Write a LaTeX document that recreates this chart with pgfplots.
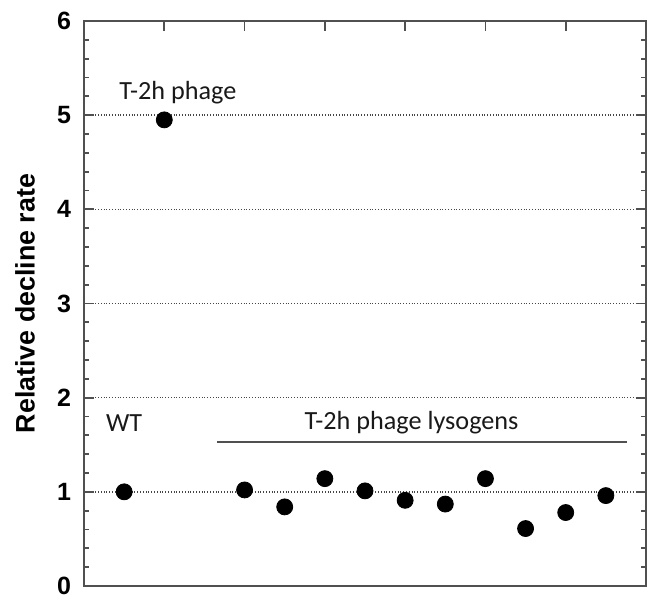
\documentclass[border=0pt]{standalone}
\usepackage{pgfplots}
\pgfplotsset{compat=1.18}
\usepackage{fontspec}
\setmainfont{Carlito}
\newfontfamily\arialf{Liberation Sans}
\definecolor{axgray}{RGB}{80,80,80}
\definecolor{gridgray}{RGB}{70,70,70}

\begin{document}
\begin{tikzpicture}
\begin{axis}[
  name=ax,
  scale only axis,
  width=281pt, height=282.5pt,
  xmin=0, xmax=7, ymin=0, ymax=6,
  axis line style={axgray, line width=1pt},
  every tick/.style={axgray, line width=0.9pt},
  xtick={1,2,3,4,5,6}, xticklabels={},
  xtick pos=right,
  major tick length=5pt,
  minor tick length=2.5pt,
  ytick={0,1,2,3,4,5,6},
  minor y tick num=4,
  ytick pos=both,
  yticklabel pos=left,
  tick align=inside,
  /pgf/number format/assume math mode=true,
  yticklabel style={font=\arialf\bfseries\fontsize{12.5}{14}\selectfont, xshift=-3pt},
  ymajorgrids,
  grid style={gridgray, densely dotted, line width=0.8pt},
  ylabel={Relative decline rate},
  ylabel style={font=\arialf\bfseries\fontsize{13.4}{15}\selectfont, at={(axis description cs:-0.105,0.5)}, anchor=center},
  clip=false,
]
\addplot[only marks, mark=*, mark size=4pt, black] coordinates {
  (0.5,1.00) (1.0,4.95)
  (2.0,1.02) (2.5,0.84) (3.0,1.14) (3.5,1.01) (4.0,0.91)
  (4.5,0.87) (5.0,1.14) (5.5,0.61) (6.0,0.78) (6.5,0.96)
};
\draw[axgray, line width=1pt] (axis cs:1.66,1.53) -- (axis cs:6.76,1.53);
\node[font=\fontsize{13.1}{15}\selectfont, text=black!90] at (axis cs:0.5,1.73) {WT};
\node[font=\fontsize{13.1}{15}\selectfont, text=black!90] at (axis cs:4.08,1.73) {T-2h phage lysogens};
\node[font=\fontsize{13.1}{15}\selectfont, text=black!90] at (axis cs:1.17,5.24) {T-2h phage};
\end{axis}
\path[use as bounding box] ([xshift=-42pt, yshift=-3pt]ax.south west) rectangle ([xshift=5pt, yshift=10.5pt]ax.north east);
\end{tikzpicture}
\end{document}
